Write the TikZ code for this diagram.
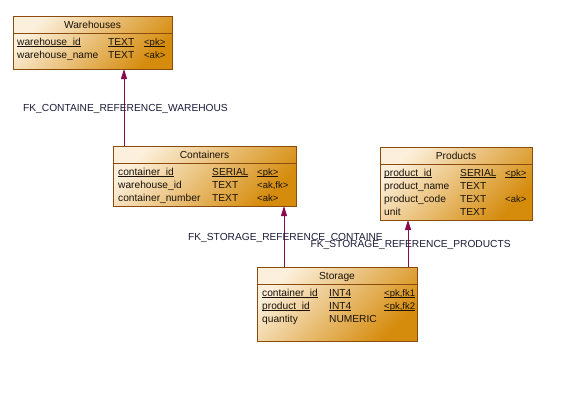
\documentclass[tikz,border=0pt]{standalone}
\usepackage{fontspec}
\setmainfont{Liberation Sans}
\usetikzlibrary{arrows.meta,calc}
\definecolor{tl}{HTML}{FCF0DC}
\definecolor{br}{HTML}{D58B0C}
\definecolor{bord}{HTML}{8A4B0C}
\definecolor{fkc}{HTML}{8A0A4E}
\definecolor{lbl}{HTML}{1C1C3A}
\definecolor{txc}{HTML}{1A1208}
\newcommand\uln[1]{\setbox0\hbox{#1}\rlap{\rule[-1.7pt]{\wd0}{0.6pt}}\box0}
\begin{document}
\begin{tikzpicture}[x=1pt,y=1pt,
  tbl/.style={draw=bord, line width=0.8pt, top color=tl, bottom color=br, shading angle=45,
    anchor=north west, inner sep=0pt, outer sep=0pt},
  sepline/.style={draw=bord, line width=0.8pt},
  txt/.style={anchor=base west, inner sep=0pt, font=\fontsize{10.2}{12}\selectfont, text=txc},
  hdr/.style={anchor=base, inner sep=0pt, font=\fontsize{10.2}{12}\selectfont, text=txc},
  keytxt/.style={anchor=base west, inner sep=0pt, font=\fontsize{9.5}{11}\selectfont, text=txc},
  fklbl/.style={anchor=base west, inner sep=0pt, font=\fontsize{10.2}{12}\selectfont, text=lbl},
  fk/.style={draw=fkc, line width=1pt, -{Triangle[width=6pt,length=10pt]}}]
\useasboundingbox (0,0) rectangle (570,-400);
\fill[white] (0,0) rectangle (570,-400);

% Warehouses
\node[tbl, minimum width=159pt, minimum height=53pt] (wh) at (13,-16) {};
\draw[sepline] ($(wh.north west)+(0,-17)$) -- ($(wh.north east)+(0,-17)$);
\node[hdr] (whh) at (92.5,-28.3) {Warehouses};
\node[txt] (wh1a) at (17,-45) {\uln{warehouse\_id}};
\node[txt] (wh1b) at (108,-45) {\uln{TEXT}};
\node[keytxt] (wh1c) at (144,-45) {\uln{<pk>}};
\node[txt] (wh2a) at (17,-58) {warehouse\_name};
\node[txt] (wh2b) at (108,-58) {TEXT};
\node[keytxt] (wh2c) at (144,-58) {<ak>};

% Containers
\node[tbl, minimum width=183pt, minimum height=60pt] (ct) at (113,-146) {};
\draw[sepline] ($(ct.north west)+(0,-17)$) -- ($(ct.north east)+(0,-17)$);
\node[hdr] (cth) at (204.5,-158) {Containers};
\node[txt] (ct1a) at (118,-175) {\uln{container\_id}};
\node[txt] (ct1b) at (212,-175) {\uln{SERIAL}};
\node[keytxt] (ct1c) at (257,-175) {\uln{<pk>}};
\node[txt] (ct2a) at (118,-188) {warehouse\_id};
\node[txt] (ct2b) at (212,-188) {TEXT};
\node[keytxt] (ct2c) at (257,-188) {<ak,fk>};
\node[txt] (ct3a) at (118,-201) {container\_number};
\node[txt] (ct3b) at (212,-201) {TEXT};
\node[keytxt] (ct3c) at (257,-201) {<ak>};

% Products
\node[tbl, minimum width=152pt, minimum height=73pt] (pr) at (380,-147) {};
\draw[sepline] ($(pr.north west)+(0,-17)$) -- ($(pr.north east)+(0,-17)$);
\node[hdr] (prh) at (456,-159) {Products};
\node[txt] (pr1a) at (384,-176) {\uln{product\_id}};
\node[txt] (pr1b) at (460,-176) {\uln{SERIAL}};
\node[keytxt] (pr1c) at (505,-176) {\uln{<pk>}};
\node[txt] (pr2a) at (384,-189) {product\_name};
\node[txt] (pr2b) at (460,-189) {TEXT};
\node[txt] (pr3a) at (384,-202) {product\_code};
\node[txt] (pr3b) at (460,-202) {TEXT};
\node[keytxt] (pr3c) at (505,-202) {<ak>};
\node[txt] (pr4a) at (384,-215) {unit};
\node[txt] (pr4b) at (460,-215) {TEXT};

% Storage
\node[tbl, minimum width=160pt, minimum height=74pt] (st) at (257,-267) {};
\draw[sepline] ($(st.north west)+(0,-17)$) -- ($(st.north east)+(0,-17)$);
\node[hdr] (sth) at (337,-279) {Storage};
\node[txt] (st1a) at (262,-296) {\uln{container\_id}};
\node[txt] (st1b) at (329,-296) {\uln{INT4}};
\node[keytxt] (st1c) at (384,-296) {\uln{<pk,fk1}};
\node[txt] (st2a) at (262,-309) {\uln{product\_id}};
\node[txt] (st2b) at (329,-309) {\uln{INT4}};
\node[keytxt] (st2c) at (384,-309) {\uln{<pk,fk2}};
\node[txt] (st3a) at (262,-322) {quantity};
\node[txt] (st3b) at (329,-322) {NUMERIC};

% connectors
\coordinate (x1) at (124,0);
\coordinate (x2) at (284,0);
\coordinate (x3) at (408,0);
\draw[fk] (ct.north -| x1) -- (wh.south -| x1);
\draw[fk] (st.north -| x2) -- (ct.south -| x2);
\draw[fk] (st.north -| x3) -- (pr.south -| x3);

\node[fklbl] (l1) at (23,-111) {FK\_CONTAINE\_REFERENCE\_WAREHOUS};
\node[fklbl] (l2) at (188,-240) {FK\_STORAGE\_REFERENCE\_CONTAINE};
\node[fklbl] (l3) at (310.5,-247) {FK\_STORAGE\_REFERENCE\_PRODUCTS};
\end{tikzpicture}
\end{document}
